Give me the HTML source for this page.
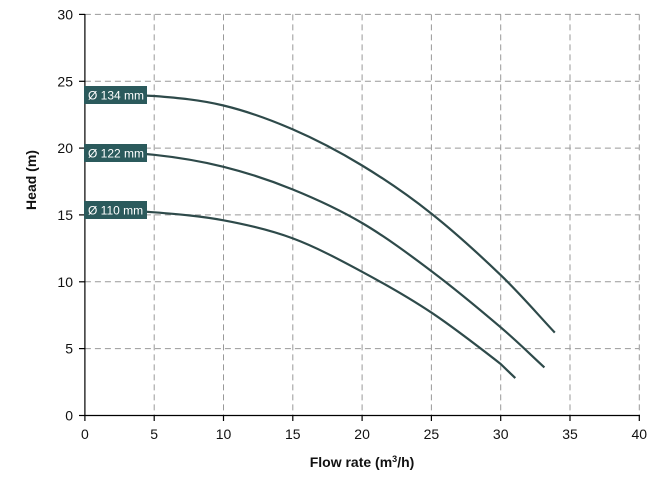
<!DOCTYPE html>
<html><head><style>body{margin:0;background:#fff}svg{display:block}text{font-family:"Liberation Sans",sans-serif}</style></head><body>
<svg width="667" height="486" xmlns="http://www.w3.org/2000/svg">
<g stroke="#999" stroke-width="1" stroke-dasharray="6,4" fill="none">
<line x1="154.2" y1="14.4" x2="154.2" y2="415.5"/><line x1="223.5" y1="14.4" x2="223.5" y2="415.5"/><line x1="292.8" y1="14.4" x2="292.8" y2="415.5"/><line x1="362.1" y1="14.4" x2="362.1" y2="415.5"/><line x1="431.4" y1="14.4" x2="431.4" y2="415.5"/><line x1="500.7" y1="14.4" x2="500.7" y2="415.5"/><line x1="570" y1="14.4" x2="570" y2="415.5"/><line x1="639.3" y1="14.4" x2="639.3" y2="415.5"/>
<line x1="84.9" y1="14.4" x2="639.3" y2="14.4"/><line x1="84.9" y1="81.3" x2="639.3" y2="81.3"/><line x1="84.9" y1="148.1" x2="639.3" y2="148.1"/><line x1="84.9" y1="214.9" x2="639.3" y2="214.9"/><line x1="84.9" y1="281.8" x2="639.3" y2="281.8"/><line x1="84.9" y1="348.6" x2="639.3" y2="348.6"/>
</g>
<g stroke="#000" stroke-width="1.2">
<line x1="84.9" y1="14" x2="84.9" y2="415.5"/><line x1="84.9" y1="415.5" x2="640" y2="415.5"/>
<line x1="79" y1="14.4" x2="84.9" y2="14.4"/><line x1="79" y1="81.3" x2="84.9" y2="81.3"/><line x1="79" y1="148.1" x2="84.9" y2="148.1"/><line x1="79" y1="214.9" x2="84.9" y2="214.9"/><line x1="79" y1="281.8" x2="84.9" y2="281.8"/><line x1="79" y1="348.6" x2="84.9" y2="348.6"/><line x1="79" y1="415.5" x2="84.9" y2="415.5"/>
<line x1="84.9" y1="415.5" x2="84.9" y2="421"/><line x1="154.2" y1="415.5" x2="154.2" y2="421"/><line x1="223.5" y1="415.5" x2="223.5" y2="421"/><line x1="292.8" y1="415.5" x2="292.8" y2="421"/><line x1="362.1" y1="415.5" x2="362.1" y2="421"/><line x1="431.4" y1="415.5" x2="431.4" y2="421"/><line x1="500.7" y1="415.5" x2="500.7" y2="421"/><line x1="570" y1="415.5" x2="570" y2="421"/><line x1="639.3" y1="415.5" x2="639.3" y2="421"/>
</g>
<g font-size="14" fill="#111" text-anchor="end">
<text x="73" y="19.5">30</text><text x="73" y="86.3">25</text><text x="73" y="153.1">20</text><text x="73" y="220">15</text><text x="73" y="286.8">10</text><text x="73" y="353.6">5</text><text x="73" y="420.5">0</text>
</g>
<g font-size="14" fill="#111" text-anchor="middle">
<text x="84.9" y="439">0</text><text x="154.2" y="439">5</text><text x="223.5" y="439">10</text><text x="292.8" y="439">15</text><text x="362.1" y="439">20</text><text x="431.4" y="439">25</text><text x="500.7" y="439">30</text><text x="570" y="439">35</text><text x="639.3" y="439">40</text>
</g>
<text x="362" y="467" font-size="14" font-weight="bold" text-anchor="middle" fill="#111">Flow rate (m<tspan font-size="9" dy="-5">3</tspan><tspan dy="5">/h)</tspan></text>
<text transform="translate(36,180) rotate(-90)" font-size="14" font-weight="bold" text-anchor="middle" fill="#111">Head (m)</text>
<g stroke="#2e4a4a" stroke-width="2.2" fill="none" stroke-linejoin="round">
<path d="M84.9,94.6 C108,94.6 131.1,94.6 154.2,96 C177.3,97.8 200.4,99.9 223.5,105.5 C246.6,111.1 269.7,119.4 292.8,129.4 C315.9,139.4 339,151.5 362.1,165.5 C385.2,179.5 408.3,195.3 431.4,213.6 C454.5,231.9 480.1,255.3 500.7,275.1 C521.3,294.9 536.8,313.4 554.8,332.6"/>
<path d="M84.9,152.1 C108,152.1 131.1,152.4 154.2,154.8 C177.3,157.25 200.4,161 223.5,166.8 C246.6,172.6 269.7,180.1 292.8,189.5 C315.9,198.9 339,209.4 362.1,223 C385.2,236.6 408.3,253.7 431.4,271.1 C454.5,288.5 481.9,311.3 500.7,327.3 C519.5,343.4 529.8,354 544.4,367.4"/>
<path d="M84.9,209.6 C108,209.6 131.1,210.5 154.2,212.3 C177.3,214.1 200.4,216 223.5,220.3 C246.6,224.6 269.7,229.8 292.8,238.4 C315.9,247 339,259.4 362.1,271.8 C385.2,284.2 408.3,297.2 431.4,312.6 C454.5,328 486.7,353.1 500.7,364 C505.6,368.7 510.4,373.4 515.3,378.1"/>
</g>
<g fill="#2b5a5c"><rect x="84" y="86" width="63" height="18"/><rect x="84" y="144" width="63" height="18"/><rect x="84" y="201" width="63" height="18"/></g>
<g fill="#fff" font-size="12"><text x="88" y="99.5">Ø 134 mm</text><text x="88" y="157.5">Ø 122 mm</text><text x="88" y="214.5">Ø 110 mm</text></g>
</svg>
</body></html>
